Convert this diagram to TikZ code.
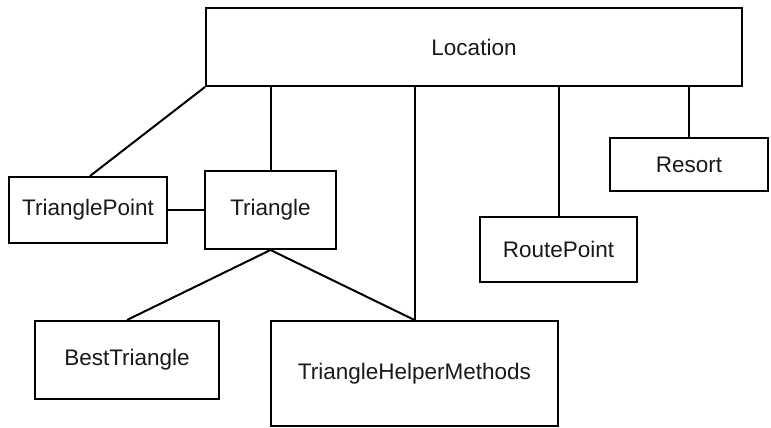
\documentclass[tikz,border=0pt]{standalone}
\usepackage{fontspec}
\setmainfont{Liberation Sans}
\usetikzlibrary{calc}
\tikzset{
  cls/.style={draw=black, line width=2pt, fill=white, inner sep=0pt,
    font=\fontsize{22.5}{27}\selectfont, text=black!90},
  link/.style={draw=black, line width=2pt}
}
\begin{document}
\begin{tikzpicture}[x=1pt,y=-1pt]
\useasboundingbox (0,0) rectangle (771,428);
\node[cls, minimum width=536pt, minimum height=78pt] (loc) at (474,47) {Location};
\node[cls, minimum width=158pt, minimum height=66pt] (tp) at (88,210) {TrianglePoint};
\node[cls, minimum width=131pt, minimum height=78pt] (tri) at (270.5,210) {Triangle};
\node[cls, minimum width=158pt, minimum height=53pt] (res) at (689,164.5) {Resort};
\node[cls, minimum width=157pt, minimum height=65pt] (rp) at (558.5,249.5) {RoutePoint};
\node[cls, minimum width=184pt, minimum height=78pt] (bt) at (127,360) {BestTriangle};
\node[cls, minimum width=287pt, minimum height=105pt] (thm) at (414.5,373.5) {TriangleHelperMethods};
\draw[link] (loc.south west) -- ($(tp.north)+(2,0)$);
\draw[link] (loc.south -| tri.north) -- (tri.north);
\draw[link] (loc.south -| thm.north) -- (thm.north);
\draw[link] (loc.south -| rp.north) -- (rp.north);
\draw[link] (loc.south -| res.north) -- (res.north);
\draw[link] (tp.east) -- (tri.west);
\draw[link] (tri.south) -- (bt.north);
\draw[link] (tri.south) -- (thm.north);
\end{tikzpicture}
\end{document}
